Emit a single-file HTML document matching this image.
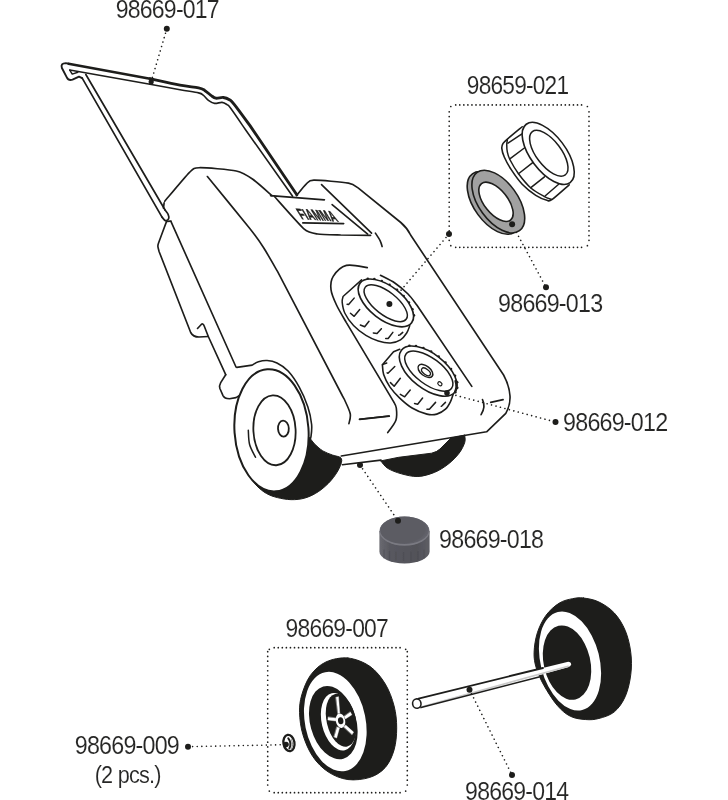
<!DOCTYPE html>
<html lang="en"><head><meta charset="utf-8"><title>Spare parts diagram</title>
<style>
html,body{margin:0;padding:0;background:#fff;}
body{width:728px;height:800px;overflow:hidden;}
svg{display:block;will-change:transform;opacity:0.999;}
text{font-family:"Liberation Sans",sans-serif;}
.lbl{fill:#262625;stroke:#fff;stroke-width:0.12px;}
.logo{fill:#1d1d1b;font-weight:bold;stroke:#1d1d1b;stroke-width:0.5px;}
</style></head><body>
<svg width="728" height="800" viewBox="0 0 728 800">
<rect width="728" height="800" fill="#fff"/>
<text class="lbl" x="115.70" y="17.80" font-size="26.6" letter-spacing="-0.9" textLength="103.20" lengthAdjust="spacingAndGlyphs">98669-017</text>
<text class="lbl" x="466.80" y="94.40" font-size="26.6" letter-spacing="-0.9" textLength="101.50" lengthAdjust="spacingAndGlyphs">98659-021</text>
<text class="lbl" x="498.10" y="312.40" font-size="26.6" letter-spacing="-0.9" textLength="104.20" lengthAdjust="spacingAndGlyphs">98669-013</text>
<text class="lbl" x="563.10" y="431.00" font-size="26.6" letter-spacing="-0.9" textLength="104.20" lengthAdjust="spacingAndGlyphs">98669-012</text>
<text class="lbl" x="439.10" y="547.50" font-size="26.6" letter-spacing="-0.9" textLength="104.10" lengthAdjust="spacingAndGlyphs">98669-018</text>
<text class="lbl" x="285.60" y="637.20" font-size="26.6" letter-spacing="-0.9" textLength="102.40" lengthAdjust="spacingAndGlyphs">98669-007</text>
<text class="lbl" x="74.80" y="753.90" font-size="26.6" letter-spacing="-0.9" textLength="104.20" lengthAdjust="spacingAndGlyphs">98669-009</text>
<text class="lbl" x="94.70" y="782.70" font-size="24.8" letter-spacing="-0.9" textLength="66.00" lengthAdjust="spacingAndGlyphs">(2 pcs.)</text>
<text class="lbl" x="465.10" y="800.30" font-size="26.6" letter-spacing="-0.9" textLength="103.20" lengthAdjust="spacingAndGlyphs">98669-014</text>
<path d="M455.7,104.9 L583.5,104.9" fill="none" stroke="#1d1d1b" stroke-width="1.7" stroke-linecap="round" stroke-dasharray="0.01 4.05"/>
<path d="M455.7,247.3 L583.5,247.3" fill="none" stroke="#1d1d1b" stroke-width="1.7" stroke-linecap="round" stroke-dasharray="0.01 4.05"/>
<path d="M449.2,111.80000000000001 L449.2,241.8" fill="none" stroke="#1d1d1b" stroke-width="1.7" stroke-linecap="round" stroke-dasharray="0.01 4.75"/>
<path d="M589.0,111.80000000000001 L589.0,241.8" fill="none" stroke="#1d1d1b" stroke-width="1.7" stroke-linecap="round" stroke-dasharray="0.01 4.75"/>
<circle cx="450.81" cy="106.51" r="0.85" fill="#1d1d1b"/>
<circle cx="587.39" cy="106.51" r="0.85" fill="#1d1d1b"/>
<circle cx="450.81" cy="245.69" r="0.85" fill="#1d1d1b"/>
<circle cx="587.39" cy="245.69" r="0.85" fill="#1d1d1b"/>
<path d="M274.2,647.7 L401.8,647.7" fill="none" stroke="#1d1d1b" stroke-width="1.7" stroke-linecap="round" stroke-dasharray="0.01 4.05"/>
<path d="M274.2,792.7 L401.8,792.7" fill="none" stroke="#1d1d1b" stroke-width="1.7" stroke-linecap="round" stroke-dasharray="0.01 4.05"/>
<path d="M267.7,651.7 L267.7,787.2" fill="none" stroke="#1d1d1b" stroke-width="1.7" stroke-linecap="round" stroke-dasharray="0.01 4.75"/>
<path d="M407.3,651.7 L407.3,787.2" fill="none" stroke="#1d1d1b" stroke-width="1.7" stroke-linecap="round" stroke-dasharray="0.01 4.75"/>
<circle cx="269.31" cy="649.31" r="0.85" fill="#1d1d1b"/>
<circle cx="405.69" cy="649.31" r="0.85" fill="#1d1d1b"/>
<circle cx="269.31" cy="791.09" r="0.85" fill="#1d1d1b"/>
<circle cx="405.69" cy="791.09" r="0.85" fill="#1d1d1b"/>
<path d="M166.8,28.8 L151.2,81.5" fill="none" stroke="#1d1d1b" stroke-width="1.6" stroke-linecap="round" stroke-dasharray="0.01 4.6"/>
<circle cx="166.8" cy="28.8" r="3.0" fill="#1d1d1b"/>
<circle cx="151.2" cy="81.8" r="2.6" fill="#1d1d1b"/>
<path d="M449,234 L389.5,303.7" fill="none" stroke="#1d1d1b" stroke-width="1.6" stroke-linecap="round" stroke-dasharray="0.01 4.6"/>
<circle cx="449" cy="234" r="3.0" fill="#1d1d1b"/>
<circle cx="389.5" cy="303.7" r="3.0" fill="#1d1d1b"/>
<path d="M512,224.2 L546,287.3" fill="none" stroke="#1d1d1b" stroke-width="1.6" stroke-linecap="round" stroke-dasharray="0.01 4.6"/>
<circle cx="546" cy="287.3" r="3.0" fill="#1d1d1b"/>
<path d="M447,393 L555.5,422.0" fill="none" stroke="#1d1d1b" stroke-width="1.6" stroke-linecap="round" stroke-dasharray="0.01 4.6"/>
<circle cx="555.5" cy="422.0" r="3.0" fill="#1d1d1b"/>
<path d="M360,465 L398,520.8" fill="none" stroke="#1d1d1b" stroke-width="1.6" stroke-linecap="round" stroke-dasharray="0.01 4.6"/>
<circle cx="360" cy="465" r="3.0" fill="#1d1d1b"/>
<path d="M188,746.7 L285.4,744.7" fill="none" stroke="#1d1d1b" stroke-width="1.6" stroke-linecap="round" stroke-dasharray="0.01 4.6"/>
<circle cx="188" cy="746.7" r="3.0" fill="#1d1d1b"/>
<circle cx="512" cy="775" r="3.0" fill="#1d1d1b"/>
<path d="M82.2,78.2 L79,76.7 L72.5,79.7 Q68.5,81 66.8,77.4 L61.9,68 Q60.3,63.2 65.8,63.1 L68.5,63.6" fill="none" stroke="#1d1d1b" stroke-width="1.9" stroke-linecap="round" stroke-linejoin="round" />
<path d="M68.5,63.7 L150,78.7" fill="none" stroke="#1d1d1b" stroke-width="2.6" stroke-linecap="round" stroke-linejoin="round" />
<path d="M150.00,78.70 C155.00,79.76 171.91,83.54 180.00,85.08 C188.09,86.62 194.42,87.04 198.54,87.93 C202.66,88.82 202.66,89.17 204.72,90.40 C206.78,91.64 209.06,94.04 210.91,95.34 C212.76,96.64 213.79,97.84 215.85,98.19 C217.91,98.54 221.00,97.19 223.27,97.44 C225.54,97.69 227.60,98.47 229.45,99.67 C231.30,100.87 230.96,100.29 234.39,104.61 C237.81,108.93 247.40,122.10 250.00,125.60 L296.8,194.8" fill="none" stroke="#1d1d1b" stroke-width="2.9" stroke-linecap="round" stroke-linejoin="round" />
<path d="M69.78,70.03 L150.00,84.30" fill="none" stroke="#1d1d1b" stroke-width="1.6" stroke-linecap="round" stroke-linejoin="round" />
<path d="M150.00,84.30 C155.00,85.21 171.91,88.35 180.00,89.78 C188.09,91.21 194.62,91.94 198.54,92.87 C202.45,93.80 201.84,94.10 203.49,95.34 C205.14,96.58 206.58,98.95 208.43,100.29 C210.28,101.63 212.34,103.03 214.61,103.38 C216.88,103.73 219.97,102.19 222.03,102.39 C224.09,102.59 225.54,103.62 226.98,104.61 C228.42,105.60 227.69,104.25 230.69,108.32 C233.69,112.38 242.62,125.55 245.00,129.00 L292.6,196.2" fill="none" stroke="#1d1d1b" stroke-width="1.6" stroke-linecap="round" stroke-linejoin="round" />
<path d="M69.78,70.03 L72.25,74.11 L77.82,72.25" fill="none" stroke="#1d1d1b" stroke-width="1.5" stroke-linecap="round" stroke-linejoin="round" />
<path d="M82.20,78.20 L162.01,217.09" fill="none" stroke="#1d1d1b" stroke-width="1.7" stroke-linecap="round" stroke-linejoin="round" />
<path d="M85.85,74.48 L165.22,210.29" fill="none" stroke="#1d1d1b" stroke-width="1.7" stroke-linecap="round" stroke-linejoin="round" />
<path d="M162.01,217.09 C162.56,217.67 164.23,220.30 165.34,220.55 C166.45,220.80 168.21,219.56 168.68,218.57 C169.16,217.58 168.77,215.99 168.19,214.61 C167.61,213.23 165.72,211.01 165.22,210.29" fill="none" stroke="#1d1d1b" stroke-width="1.7" stroke-linecap="round" stroke-linejoin="round" />
<path d="M163.49,208.19 L164.11,202.87" fill="none" stroke="#1d1d1b" stroke-width="1.65" stroke-linecap="round" stroke-linejoin="round" />
<path d="M164.76,201.27 C167.65,197.90 185.51,176.30 189.52,172.38 C193.53,168.46 193.69,167.86 199.15,167.70 C204.61,167.54 230.03,169.65 236.29,171.00 C242.55,172.35 248.62,176.37 252.79,179.26 C256.96,182.15 269.80,193.83 272.05,195.76" fill="none" stroke="#1d1d1b" stroke-width="1.65" stroke-linecap="round" stroke-linejoin="round" />
<path d="M166.58,221.41 C165.78,223.57 159.41,240.52 158.54,243.05 C157.67,245.59 157.87,245.89 157.93,246.76 C157.99,247.62 159.04,251.21 159.16,251.70 L190.7,332.5 Q193,337 199,337 L208.3,336.5" fill="none" stroke="#1d1d1b" stroke-width="1.65" stroke-linecap="round" stroke-linejoin="round" />
<path d="M166.58,221.41 L170.91,221.17" fill="none" stroke="#1d1d1b" stroke-width="1.65" stroke-linecap="round" stroke-linejoin="round" />
<path d="M197.5,328.5 L201.5,324.2 Q203,323.2 204.2,326 L208.3,336.5 L225.7,374.7" fill="none" stroke="#1d1d1b" stroke-width="1.65" stroke-linecap="round" stroke-linejoin="round" />
<path d="M170.91,221.41 L236.00,367.00" fill="none" stroke="#1d1d1b" stroke-width="1.65" stroke-linecap="round" stroke-linejoin="round" />
<path d="M225.7,374.7 L220.7,382.6 Q219,385.6 219.9,388.5 L223.0,395.6 Q224.4,398.6 229.5,398.7 L236,397.6 L240,395.2" fill="none" stroke="#1d1d1b" stroke-width="1.65" stroke-linecap="round" stroke-linejoin="round" />
<path d="M236.8,367.4 L252.3,365.1 L252.25,365.14 C253.28,364.58 255.96,362.56 258.43,361.80 C260.90,361.04 264.00,360.35 267.09,360.56 C270.18,360.77 273.48,361.29 276.98,363.04 C280.48,364.79 284.39,367.05 288.10,371.07 C291.81,375.09 295.93,381.16 299.23,387.14 C302.53,393.12 305.82,400.74 307.88,406.92 C309.94,413.10 311.07,419.29 311.59,424.23 C312.10,429.18 311.38,433.70 310.97,436.59 C310.56,439.47 309.43,440.72 309.12,441.54" fill="none" stroke="#1d1d1b" stroke-width="1.6" stroke-linecap="round" stroke-linejoin="round" />
<path d="M207.40,176.50 C211.66,181.73 244.36,221.65 250.00,228.80 C255.64,235.95 261.05,243.74 263.80,248.00 C266.55,252.26 276.13,269.06 277.50,271.40 L342.5,396 L344.07,398.79 C345.10,401.28 349.42,409.60 350.22,413.74 C351.03,417.88 349.12,421.98 348.90,423.63" fill="none" stroke="#1d1d1b" stroke-width="1.65" stroke-linecap="round" stroke-linejoin="round" />
<path d="M270.58,195.58 L324.42,199.81" fill="none" stroke="#1d1d1b" stroke-width="1.65" stroke-linecap="round" stroke-linejoin="round" />
<path d="M274.42,196.54 C277.40,199.81 299.90,225.48 304.23,229.23 C308.56,232.98 314.04,233.46 317.69,234.04 C321.34,234.62 338.46,234.90 340.77,235.00 L370.6,235.4" fill="none" stroke="#1d1d1b" stroke-width="1.65" stroke-linecap="round" stroke-linejoin="round" />
<path d="M296.54,195.58 C297.82,194.04 303.84,186.09 306.15,184.04 C308.46,181.99 308.21,180.32 313.85,180.19 C319.49,180.06 342.56,182.05 348.46,183.08 C354.36,184.11 356.80,187.24 358.08,187.88 L400.8,222.5 Q407.2,228 410.6,235 L503.6,375 Q509.5,386 510,396 Q510.5,405 505.8,413.4 L486.6,431.8 L341.3,456.0" fill="none" stroke="#1d1d1b" stroke-width="1.65" stroke-linecap="round" stroke-linejoin="round" />
<path d="M321.54,184.62 L371.54,233.08" fill="none" stroke="#1d1d1b" stroke-width="1.65" stroke-linecap="round" stroke-linejoin="round" />
<path d="M332.12,204.62 L367.69,234.04" fill="none" stroke="#1d1d1b" stroke-width="1.65" stroke-linecap="round" stroke-linejoin="round" />
<path d="M375.38,233.08 C376.18,234.36 379.07,238.53 380.19,240.77 C381.31,243.01 381.80,245.58 382.12,246.54" fill="none" stroke="#1d1d1b" stroke-width="1.65" stroke-linecap="round" stroke-linejoin="round" />
<text class="logo" transform="matrix(1,0.07,0.62,1,301.4,219.0)" font-size="15" textLength="37.5" lengthAdjust="spacingAndGlyphs">FIAMMA</text>
<path d="M302.8,222.9 L343.7,223.6" fill="none" stroke="#1d1d1b" stroke-width="1.6" stroke-linecap="round" stroke-linejoin="round" />
<path d="M342.4,464.7 L381,460.1" fill="none" stroke="#1d1d1b" stroke-width="1.65" stroke-linecap="round" stroke-linejoin="round" />
<path d="M482.5,399.6 Q486,406.5 481.1,414.7" fill="none" stroke="#1d1d1b" stroke-width="1.65" stroke-linecap="round" stroke-linejoin="round" />
<path d="M490.7,402.4 L503.1,399.6" fill="none" stroke="#1d1d1b" stroke-width="1.65" stroke-linecap="round" stroke-linejoin="round" />
<path d="M359.5,419.2 L389,416" fill="none" stroke="#1d1d1b" stroke-width="1.65" stroke-linecap="round" stroke-linejoin="round" />
<path d="M252.75,480.44 C252.29,479.75 249.31,475.40 250.00,476.32 C250.69,477.24 254.12,483.07 256.87,485.93 C259.62,488.79 263.05,491.54 266.48,493.49 C269.91,495.44 273.35,496.58 277.47,497.61 C281.59,498.64 286.63,499.60 291.21,499.67 C295.79,499.74 300.37,499.39 304.95,498.02 C309.53,496.65 314.33,494.36 318.68,491.43 C323.03,488.50 327.61,484.33 331.04,480.44 C334.48,476.55 337.57,471.74 339.29,468.08 C341.01,464.42 342.50,460.63 341.35,458.46 C340.21,456.28 335.51,456.29 332.42,455.03 C329.33,453.77 325.78,452.74 322.80,450.91 C319.82,449.08 315.93,445.19 314.56,444.04 L309.07,437.17 L302.20,447.47 L291.21,461.21 L270.60,474.95 Z" fill="#1d1d1b" stroke="#1d1d1b" stroke-width="1" stroke-linecap="round" stroke-linejoin="round" />
<ellipse cx="271.5" cy="430.3" rx="37.0" ry="61.2" transform="rotate(-4 271.5 430.3)" fill="#fff" stroke="#1d1d1b" stroke-width="2.0"/>
<ellipse cx="274.5" cy="430.3" rx="21.1" ry="35" transform="rotate(-3 274.5 430.3)" fill="none" stroke="#1d1d1b" stroke-width="1.8"/>
<ellipse cx="283.4" cy="428.6" rx="5.4" ry="8.0" transform="rotate(-3 283.4 428.6)" fill="none" stroke="#1d1d1b" stroke-width="1.8"/>
<path d="M248.30,430.20 C248.52,432.58 248.40,439.98 249.60,444.50 C250.80,449.02 254.52,455.17 255.50,457.30" fill="none" stroke="#1d1d1b" stroke-width="1.5" stroke-linecap="round" stroke-linejoin="round" />
<path d="M380.8,460.9 L398.7,457.3 L431.6,453.2 Q437,452 439.9,449.1 L450.9,438.1 L464.6,435.2 L464.60,434.80 C464.63,436.03 465.72,439.13 464.80,442.20 C463.88,445.27 461.88,449.53 459.10,453.20 C456.32,456.87 452.22,461.00 448.10,464.20 C443.98,467.40 439.43,470.35 434.40,472.40 C429.37,474.45 423.40,476.27 417.90,476.50 C412.40,476.73 406.43,475.17 401.40,473.80 C396.37,472.43 391.13,470.45 387.70,468.30 C384.27,466.15 381.95,462.13 380.80,460.90Z" fill="#1d1d1b" stroke="#1d1d1b" stroke-width="1" stroke-linecap="round" stroke-linejoin="round" />
<path d="M367.30,267.60 C363.82,267.23 352.08,263.93 346.40,265.40 C340.72,266.87 335.77,272.37 333.20,276.40 C330.63,280.43 330.45,284.83 331.00,289.60 C331.55,294.37 333.93,299.51 336.50,305.01 C339.07,310.51 344.75,319.68 346.40,322.61 L393.71,401.82L393.71,401.82 C394.14,402.85 395.94,404.94 396.30,408.00 C396.67,411.06 397.33,416.10 395.90,420.20 C394.47,424.30 389.07,430.53 387.70,432.60" fill="none" stroke="#1d1d1b" stroke-width="1.65" stroke-linecap="round" stroke-linejoin="round" />
<path d="M380.51,275.30 C382.42,276.33 391.14,280.51 394.81,283.00 C398.48,285.49 405.08,291.07 408.01,294.00 C410.94,296.93 415.64,303.54 416.81,305.01 L471.82,386.41" fill="none" stroke="#1d1d1b" stroke-width="1.65" stroke-linecap="round" stroke-linejoin="round" />
<path d="M359.60,419.42 L389.31,416.12" fill="none" stroke="#1d1d1b" stroke-width="1.65" stroke-linecap="round" stroke-linejoin="round" />
<path d="M361.58,279.83 L343.04,296.52 L343.04,296.52 C342.91,297.36 341.89,299.59 342.17,302.09 C342.45,304.59 343.18,309.69 344.89,313.21 C346.60,316.73 350.39,322.24 353.54,325.58 C356.69,328.92 362.20,333.15 365.91,335.47 C369.62,337.79 374.56,339.92 378.27,341.03 C381.98,342.14 387.29,343.07 390.63,342.88 C393.97,342.69 398.11,341.27 400.52,339.79 C402.93,338.31 405.31,335.12 406.70,332.99 C408.09,330.86 409.33,326.69 409.79,325.58" fill="#fff" stroke="#1d1d1b" stroke-width="1.5" stroke-linecap="round" stroke-linejoin="round" />
<circle cx="367.78" cy="278.82" r="1.3" fill="#1d1d1b"/>
<circle cx="374.34" cy="279.04" r="1.3" fill="#1d1d1b"/>
<circle cx="381.78" cy="281.08" r="1.3" fill="#1d1d1b"/>
<circle cx="389.54" cy="284.79" r="1.3" fill="#1d1d1b"/>
<circle cx="397.01" cy="289.88" r="1.3" fill="#1d1d1b"/>
<circle cx="403.64" cy="295.96" r="1.3" fill="#1d1d1b"/>
<circle cx="408.92" cy="302.58" r="1.3" fill="#1d1d1b"/>
<circle cx="412.44" cy="309.21" r="1.3" fill="#1d1d1b"/>
<circle cx="413.93" cy="315.37" r="1.3" fill="#1d1d1b"/>
<ellipse cx="385.9" cy="302.9" rx="32.5" ry="16.7" transform="rotate(37.6 385.9 302.9)" fill="#fff" stroke="#1d1d1b" stroke-width="1.7"/>
<ellipse cx="385.7" cy="303.2" rx="26" ry="11.4" transform="rotate(38.2 385.7 303.2)" fill="none" stroke="#1d1d1b" stroke-width="1.5"/>
<path d="M354.16,298.13 L348.60,304.56 L347.12,304.31" fill="none" stroke="#1d1d1b" stroke-width="1.5" stroke-linecap="round" stroke-linejoin="round" />
<path d="M359.72,309.50 L354.16,316.30 L350.45,313.21" fill="none" stroke="#1d1d1b" stroke-width="1.5" stroke-linecap="round" stroke-linejoin="round" />
<path d="M369.00,321.25 L364.67,326.81 L360.34,324.96" fill="none" stroke="#1d1d1b" stroke-width="1.5" stroke-linecap="round" stroke-linejoin="round" />
<path d="M381.36,328.67 L377.03,333.61 L373.32,332.99" fill="none" stroke="#1d1d1b" stroke-width="1.5" stroke-linecap="round" stroke-linejoin="round" />
<path d="M392.86,332.38 L388.16,338.56 L385.69,338.56" fill="none" stroke="#1d1d1b" stroke-width="1.5" stroke-linecap="round" stroke-linejoin="round" />
<path d="M402.75,332.38 L399.90,334.85 L398.67,335.22" fill="none" stroke="#1d1d1b" stroke-width="1.5" stroke-linecap="round" stroke-linejoin="round" />
<path d="M399.72,349.22 L393.54,351.69 L382.42,364.67 L382.42,364.67 C382.60,366.15 382.54,371.22 383.65,374.56 C384.76,377.90 387.42,383.40 389.83,386.92 C392.24,390.44 396.38,394.90 399.72,398.05 C403.06,401.20 408.01,405.53 412.09,407.94 C416.17,410.35 423.21,413.19 426.92,414.12 C430.63,415.05 434.03,414.86 436.81,414.12 C439.59,413.38 443.43,411.02 445.47,409.17 C447.51,407.32 449.26,403.98 450.41,401.76 C451.56,399.54 452.72,395.45 453.13,394.34" fill="#fff" stroke="#1d1d1b" stroke-width="1.6" stroke-linecap="round" stroke-linejoin="round" />
<path d="M382.42,364.67 L386.74,362.94" fill="none" stroke="#1d1d1b" stroke-width="1.5" stroke-linecap="round" stroke-linejoin="round" />
<circle cx="409.44" cy="345.78" r="1.3" fill="#1d1d1b"/>
<circle cx="415.98" cy="346.01" r="1.3" fill="#1d1d1b"/>
<circle cx="423.38" cy="347.99" r="1.3" fill="#1d1d1b"/>
<circle cx="431.12" cy="351.59" r="1.3" fill="#1d1d1b"/>
<circle cx="438.65" cy="356.55" r="1.3" fill="#1d1d1b"/>
<circle cx="445.45" cy="362.54" r="1.3" fill="#1d1d1b"/>
<circle cx="451.04" cy="369.12" r="1.3" fill="#1d1d1b"/>
<circle cx="455.04" cy="375.84" r="1.3" fill="#1d1d1b"/>
<circle cx="457.16" cy="382.23" r="1.3" fill="#1d1d1b"/>
<circle cx="457.25" cy="387.84" r="1.3" fill="#1d1d1b"/>
<circle cx="455.31" cy="392.28" r="1.3" fill="#1d1d1b"/>
<ellipse cx="428.2" cy="371.1" rx="34" ry="17.5" transform="rotate(38 428.2 371.1)" fill="#fff" stroke="#1d1d1b" stroke-width="1.6"/>
<ellipse cx="428.8" cy="371.1" rx="28.5" ry="13" transform="rotate(36.9 428.8 371.1)" fill="none" stroke="#1d1d1b" stroke-width="1.5"/>
<path d="M394.78,366.52 L387.98,373.32 L387.12,372.83" fill="none" stroke="#1d1d1b" stroke-width="1.5" stroke-linecap="round" stroke-linejoin="round" />
<path d="M400.34,378.27 L394.16,386.30 L390.45,382.60" fill="none" stroke="#1d1d1b" stroke-width="1.5" stroke-linecap="round" stroke-linejoin="round" />
<path d="M410.23,390.01 L404.67,396.81 L400.34,394.34" fill="none" stroke="#1d1d1b" stroke-width="1.5" stroke-linecap="round" stroke-linejoin="round" />
<path d="M422.60,398.05 L417.65,404.23 L414.56,403.61" fill="none" stroke="#1d1d1b" stroke-width="1.5" stroke-linecap="round" stroke-linejoin="round" />
<path d="M435.58,402.38 L429.39,409.17 L426.92,409.17" fill="none" stroke="#1d1d1b" stroke-width="1.5" stroke-linecap="round" stroke-linejoin="round" />
<path d="M445.47,402.38 L441.76,406.08 L441.14,406.33" fill="none" stroke="#1d1d1b" stroke-width="1.5" stroke-linecap="round" stroke-linejoin="round" />
<ellipse cx="425.4" cy="370.9" rx="8.6" ry="4.9" transform="rotate(38 425.4 370.9)" fill="none" stroke="#1d1d1b" stroke-width="1.5"/>
<ellipse cx="426.0" cy="371.8" rx="5.2" ry="2.7" transform="rotate(38 426.0 371.8)" fill="none" stroke="#1d1d1b" stroke-width="1.3"/>
<ellipse cx="439.9" cy="383.8" rx="2.3" ry="1.7" transform="rotate(38 439.9 383.8)" fill="none" stroke="#1d1d1b" stroke-width="1.2"/>
<path d="M455.5,381 Q457.5,387 455,392" fill="none" stroke="#1d1d1b" stroke-width="2.2" stroke-linecap="round" stroke-linejoin="round" />
<circle cx="389.4" cy="303.9" r="3.0" fill="#1d1d1b"/>
<circle cx="447" cy="393.1" r="2.8" fill="#1d1d1b"/>
<ellipse cx="493.6" cy="202.9" rx="36" ry="19.5" transform="rotate(54 493.6 202.9)" fill="#a1a1a1" stroke="#1d1d1b" stroke-width="1.6"/>
<ellipse cx="498.3" cy="201.6" rx="36" ry="19.5" transform="rotate(54 498.3 201.6)" fill="#a1a1a1" stroke="#1d1d1b" stroke-width="1.6"/>
<ellipse cx="496.0" cy="201.8" rx="23.3" ry="11.7" transform="rotate(51.5 496.0 201.8)" fill="#fff" stroke="#1d1d1b" stroke-width="1.6"/>
<circle cx="512.1" cy="224.3" r="3.0" fill="#1d1d1b"/>
<path d="M522.20,126.74 C520.22,128.39 509.91,136.88 507.36,139.11 C504.81,141.34 503.78,142.19 503.04,143.43 C502.30,144.67 501.64,146.57 501.80,148.38 C501.96,150.19 503.03,154.23 504.27,157.03 C505.51,159.83 508.68,165.76 511.07,169.39 C513.46,173.02 518.90,180.77 522.20,184.23 C525.50,187.69 532.50,193.22 535.80,195.36 C539.10,197.50 544.78,199.72 546.92,200.30 C549.06,200.88 548.90,201.74 551.87,199.68 C554.84,197.62 566.86,186.83 569.17,184.85" fill="#fff" stroke="#1d1d1b" stroke-width="1.6" stroke-linecap="round" stroke-linejoin="round" />
<path d="M507.36,139.72 C507.27,140.46 506.74,142.81 506.74,144.67 C506.74,146.53 506.90,149.87 507.36,152.09 C507.82,154.31 508.16,156.26 509.83,159.50 C511.50,162.74 515.34,169.45 518.49,173.72 C521.64,177.99 526.96,184.51 530.85,187.94 C534.74,191.37 541.39,194.88 544.45,196.59 C547.51,198.30 550.23,198.90 551.25,199.31" fill="none" stroke="#1d1d1b" stroke-width="1.5" stroke-linecap="round" stroke-linejoin="round" />
<path d="M521.58,134.16 L507.98,143.19" fill="none" stroke="#1d1d1b" stroke-width="1.5" stroke-linecap="round" stroke-linejoin="round" />
<path d="M524.67,147.76 L509.83,158.89" fill="none" stroke="#1d1d1b" stroke-width="1.5" stroke-linecap="round" stroke-linejoin="round" />
<path d="M532.71,162.60 L518.49,173.72" fill="none" stroke="#1d1d1b" stroke-width="1.5" stroke-linecap="round" stroke-linejoin="round" />
<path d="M544.45,176.81 L530.85,187.69" fill="none" stroke="#1d1d1b" stroke-width="1.5" stroke-linecap="round" stroke-linejoin="round" />
<path d="M558.67,184.23 L545.07,195.97" fill="none" stroke="#1d1d1b" stroke-width="1.5" stroke-linecap="round" stroke-linejoin="round" />
<ellipse cx="548.2" cy="153.4" rx="36.5" ry="17.5" transform="rotate(53 548.2 153.4)" fill="#fff" stroke="#1d1d1b" stroke-width="1.6"/>
<ellipse cx="548.8" cy="153.3" rx="27.2" ry="12.4" transform="rotate(52.7 548.8 153.3)" fill="none" stroke="#1d1d1b" stroke-width="1.5"/>
<defs><linearGradient id="capb" x1="0" y1="0" x2="1" y2="0"><stop offset="0" stop-color="#6a6a71"/><stop offset="0.2" stop-color="#595960"/><stop offset="0.75" stop-color="#525259"/><stop offset="1" stop-color="#5e5e65"/></linearGradient><radialGradient id="capt" cx="0.4" cy="0.45" r="0.65"><stop offset="0" stop-color="#5b5b63"/><stop offset="0.8" stop-color="#5c5c64"/><stop offset="1" stop-color="#686870"/></radialGradient><filter id="soft" x="-10%" y="-10%" width="120%" height="120%"><feGaussianBlur stdDeviation="0.55"/></filter></defs>
<g filter="url(#soft)">
<path d="M379.4,531 L379.4,551.5 A25.1,12 0 0 0 429.6,551.5 L429.6,531 Z" fill="url(#capb)"/>
<path d="M384,549.5 l0,9" stroke="#47474d" stroke-width="1.2" fill="none" opacity="0.5"/>
<path d="M389.5,550.8 l0,9" stroke="#47474d" stroke-width="1.2" fill="none" opacity="0.5"/>
<path d="M396,551.6 l0,9" stroke="#47474d" stroke-width="1.2" fill="none" opacity="0.5"/>
<path d="M403.5,552.0 l0,9" stroke="#47474d" stroke-width="1.2" fill="none" opacity="0.5"/>
<path d="M411,551.8 l0,9" stroke="#47474d" stroke-width="1.2" fill="none" opacity="0.5"/>
<path d="M418,551.1 l0,9" stroke="#47474d" stroke-width="1.2" fill="none" opacity="0.5"/>
<path d="M424,549.8 l0,9" stroke="#47474d" stroke-width="1.2" fill="none" opacity="0.5"/>
<ellipse cx="404.5" cy="531.2" rx="25.1" ry="14.6" fill="#7a7a82"/>
<ellipse cx="404.5" cy="530.3" rx="24.4" ry="13.8" fill="url(#capt)"/>
</g>
<circle cx="398" cy="520.8" r="3.0" fill="#1d1d1b"/>
<path d="M347.91,658.02 C355.24,658.75 363.66,662.05 369.89,666.37 C376.12,670.69 381.24,677.37 385.27,683.96 C389.30,690.55 392.16,698.61 394.07,705.93 C395.98,713.25 396.70,720.58 396.70,727.91 C396.70,735.24 395.98,743.30 394.07,749.89 C392.16,756.48 389.30,762.89 385.27,767.47 C381.24,772.05 376.12,775.35 369.89,777.36 C363.66,779.38 354.87,780.47 347.91,779.56 C340.95,778.64 333.99,775.72 328.13,771.87 C322.27,768.02 316.96,762.71 312.75,756.48 C308.54,750.25 305.06,741.84 302.86,734.51 C300.66,727.18 299.74,719.12 299.56,712.53 C299.38,705.94 299.93,701.18 301.76,694.95 C303.59,688.72 306.52,680.65 310.55,675.16 C314.58,669.66 319.70,664.84 325.93,661.98 C332.16,659.12 340.58,657.29 347.91,658.02Z" fill="#1d1d1b" stroke="#1d1d1b" stroke-width="1" stroke-linecap="round" stroke-linejoin="round" />
<ellipse cx="335.3" cy="721.6" rx="30.3" ry="50.4" transform="rotate(-11.5 335.3 721.6)" fill="#fff"/>
<ellipse cx="333.3" cy="722.6" rx="23" ry="37.5" transform="rotate(-15.6 333.3 722.6)" fill="#1d1d1b"/>
<ellipse cx="338.3" cy="721.7" rx="16.6" ry="29.2" transform="rotate(-13 338.3 721.7)" fill="#fff"/>
<ellipse cx="341.2" cy="720.3" rx="14.6" ry="27.0" transform="rotate(-13 341.2 720.3)" fill="#1d1d1b"/>
<path d="M338.02,713.57 L339.75,713.08 L338.52,696.63 L336.04,697.25Z" fill="#fff" stroke="#fff" stroke-width="0.4" stroke-linecap="round" stroke-linejoin="round" />
<path d="M344.20,716.41 L345.44,718.89 L351.87,714.81 L350.38,712.09Z" fill="#fff" stroke="#fff" stroke-width="0.4" stroke-linecap="round" stroke-linejoin="round" />
<path d="M343.83,726.92 L345.69,725.07 L353.60,732.11 L352.11,734.59Z" fill="#fff" stroke="#fff" stroke-width="0.4" stroke-linecap="round" stroke-linejoin="round" />
<path d="M337.03,726.92 L339.50,727.91 L336.66,738.05 L334.19,737.06Z" fill="#fff" stroke="#fff" stroke-width="0.4" stroke-linecap="round" stroke-linejoin="round" />
<path d="M336.04,718.27 L335.80,720.99 L327.88,720.00 L328.13,717.28Z" fill="#fff" stroke="#fff" stroke-width="0.4" stroke-linecap="round" stroke-linejoin="round" />
<ellipse cx="340.5" cy="720.7" rx="4.7" ry="7.3" transform="rotate(-10 340.5 720.7)" fill="#fff"/>
<ellipse cx="340.7" cy="720.8" rx="2.7" ry="3.5" transform="rotate(-10 340.7 720.8)" fill="#1d1d1b"/>
<ellipse cx="288.96" cy="743.0" rx="5.5" ry="8.2" transform="rotate(-10 288.96 743.0)" fill="#fff" stroke="#1d1d1b" stroke-width="2.3"/>
<path d="M288.3,738.4 Q292.0,743 289.4,748.4" fill="none" stroke="#1d1d1b" stroke-width="2.0" stroke-linecap="round" stroke-linejoin="round" />
<path d="M291.6,739.6 Q294,744 291.7,748.9" fill="none" stroke="#8a8a8a" stroke-width="1.0" stroke-linecap="round" stroke-linejoin="round" />
<circle cx="286.0" cy="744.5" r="2.8" fill="#1d1d1b"/>
<path d="M583.52,598.02 C587.91,598.57 593.77,599.49 598.90,601.98 C604.03,604.47 609.89,608.21 614.29,612.97 C618.68,617.73 622.52,623.96 625.27,630.55 C628.02,637.14 629.85,645.20 630.77,652.53 C631.69,659.86 631.69,667.18 630.77,674.51 C629.85,681.84 628.02,690.25 625.27,696.48 C622.52,702.71 618.68,708.21 614.29,711.87 C609.89,715.53 603.66,717.18 598.90,718.46 C594.14,719.74 590.47,719.93 585.71,719.56 C580.95,719.19 575.09,718.64 570.33,716.26 C565.57,713.88 561.53,710.40 557.14,705.27 C552.75,700.14 547.44,691.72 543.96,685.49 C540.48,679.26 537.91,673.40 536.26,667.91 C534.61,662.42 533.89,658.39 534.07,652.53 C534.25,646.67 535.35,638.98 537.36,632.75 C539.37,626.52 542.49,620.11 546.15,615.16 C549.81,610.21 554.94,605.83 559.34,603.08 C563.74,600.33 568.50,599.52 572.53,598.68 C576.56,597.84 579.12,597.47 583.52,598.02Z" fill="#1d1d1b" stroke="#1d1d1b" stroke-width="1" stroke-linecap="round" stroke-linejoin="round" />
<ellipse cx="570.0" cy="661.0" rx="29.5" ry="50.5" transform="rotate(-14 570.0 661.0)" fill="#fff"/>
<ellipse cx="567.0" cy="662.6" rx="23.3" ry="37.8" transform="rotate(-13 567.0 662.6)" fill="#1d1d1b"/>
<defs><linearGradient id="rod" gradientUnits="userSpaceOnUse" x1="0" y1="0" x2="2.1" y2="8.6"><stop offset="0" stop-color="#fff"/><stop offset="0.45" stop-color="#fff"/><stop offset="1" stop-color="#b5b5b5"/></linearGradient></defs>
<g transform="translate(418.5,698.6)"><path d="M0,0 L149.7,-36.8 Q152.6,-36.6 152.6,-34.3 Q152.6,-32.2 149.7,-31.4 L2.5,8.9 Z" fill="#fff"/></g>
<path d="M421,707.0 L568.2,666.2" fill="none" stroke="#c9c9c9" stroke-width="1.6" stroke-linecap="round" stroke-linejoin="round" />
<path d="M418.5,698.6 L543,668" fill="none" stroke="#1d1d1b" stroke-width="1.9" stroke-linecap="round" stroke-linejoin="round" />
<path d="M421,707.6 L539,677.0" fill="none" stroke="#1d1d1b" stroke-width="1.6" stroke-linecap="round" stroke-linejoin="round" />
<ellipse cx="416.8" cy="703.6" rx="4.2" ry="4.7" transform="rotate(-10 416.8 703.6)" fill="#fff" stroke="#1d1d1b" stroke-width="1.6"/>
<path d="M469.5,689.7 L512,775" fill="none" stroke="#1d1d1b" stroke-width="1.6" stroke-linecap="round" stroke-dasharray="0.01 4.6"/>
<circle cx="469.5" cy="689.7" r="3.0" fill="#1d1d1b"/>
</svg>
</body></html>
